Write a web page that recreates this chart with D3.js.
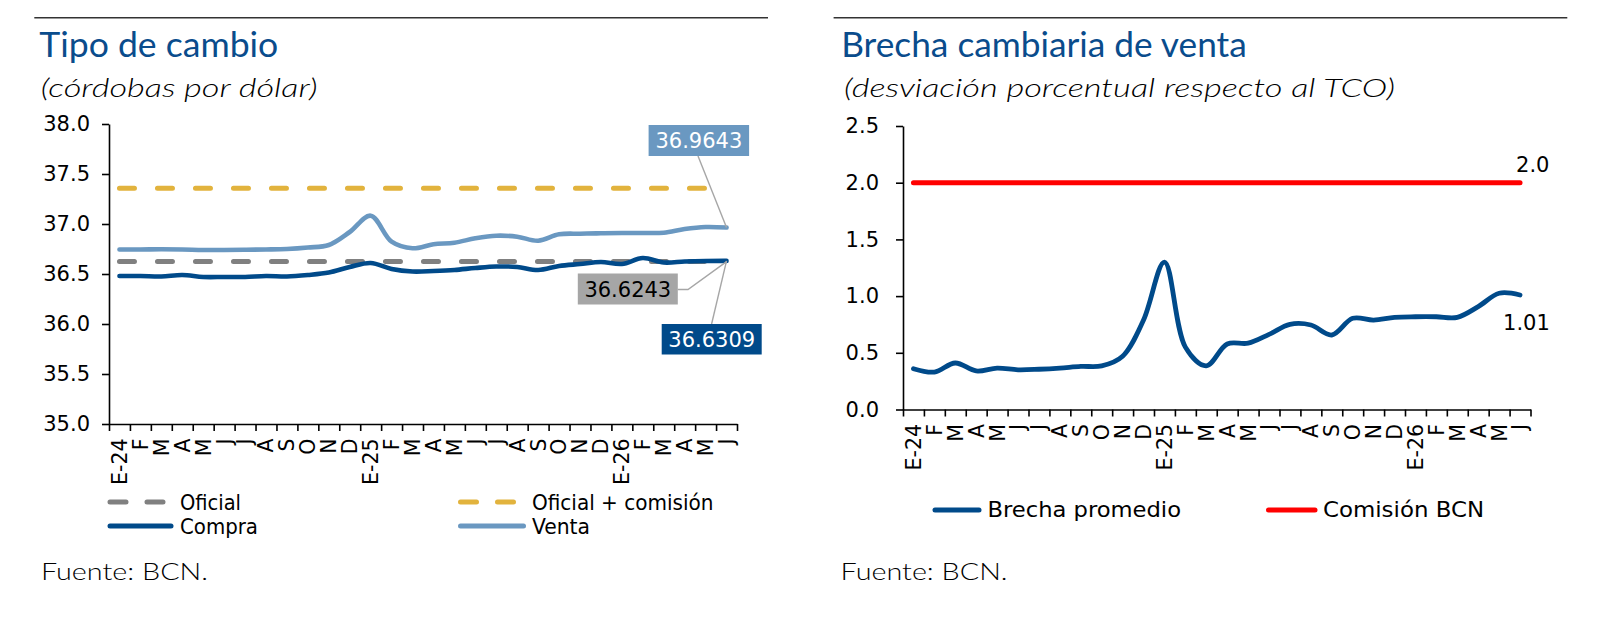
<!DOCTYPE html>
<html><head><meta charset="utf-8">
<script src="https://cdn.jsdelivr.net/npm/d3@7"></script>
<style>body{margin:0;background:#fff} svg{display:block;background:#fff}</style>
</head><body><svg id="c" width="1618" height="636"></svg>
<script>
// ---------- DATA ----------
const months = ["E-24","F","M","A","M","J","J","A","S","O","N","D","E-25","F","M","A","M","J","J","A","S","O","N","D","E-26","F","M","A","M","J"];
const compra = [36.48,36.48,36.475,36.49,36.47,36.47,36.47,36.48,36.475,36.49,36.515,36.57,36.61,36.55,36.525,36.53,36.54,36.56,36.575,36.57,36.54,36.58,36.60,36.62,36.60,36.66,36.615,36.625,36.63,36.6309];
const venta  = [36.745,36.745,36.747,36.745,36.74,36.74,36.742,36.745,36.75,36.765,36.79,36.92,37.083,36.823,36.757,36.797,36.813,36.857,36.883,36.873,36.833,36.897,36.903,36.907,36.91,36.91,36.913,36.95,36.97,36.9643];
const oficial = 36.6243;
const oficialComision = 37.3568;
const brecha = [0.36,0.33,0.41,0.34,0.365,0.35,0.355,0.365,0.38,0.385,0.47,0.79,1.30,0.55,0.385,0.578,0.585,0.663,0.751,0.745,0.657,0.804,0.789,0.813,0.818,0.818,0.813,0.907,1.025,1.01];
const comisionBCN = 2.0;
const yTicksLeft = [35.0,35.5,36.0,36.5,37.0,37.5,38.0];
const yTicksRight = [0.0,0.5,1.0,1.5,2.0,2.5];
const endLabelsLeft = ["36.9643","36.6243","36.6309"];
const endLabelsRight = ["2.0","1.01"];

// ---------- STYLE ----------
const C = {compra:"#004a8a", venta:"#6a98c1", gold:"#e2b33d", gray:"#808080", red:"#ff0000", title:"#0a4c8c", box:"#a6a6a6"};
const TICK_FONT = "'DejaVu Sans', Verdana, sans-serif";
const NARROW = "'Liberation Sans Narrow','DejaVu Sans Condensed','Liberation Sans',sans-serif";
const GEO = "Lato,'Open Sans',sans-serif";

const svg = d3.select("#c");
svg.append("rect").attr("width",1618).attr("height",636).attr("fill","#fff");

function txt(g, s, x, y, o) {
  const t = g.append("text").attr("x",x).attr("y",y).text(s)
    .attr("font-family", o.font).attr("font-size", o.size)
    .attr("fill", o.fill || "#000");
  if (o.weight) t.attr("font-weight", o.weight);
  if (o.style) t.attr("font-style", o.style);
  if (o.anchor) t.attr("text-anchor", o.anchor);
  if (o.len) t.attr("textLength", o.len).attr("lengthAdjust","spacingAndGlyphs");
  return t;
}

function panel(o) {
  const g = svg.append("g");
  // top rule
  g.append("line").attr("x1",o.ruleX0).attr("x2",o.ruleX1).attr("y1",17.7).attr("y2",17.7)
    .attr("stroke","#333").attr("stroke-width",1.4);
  txt(g, o.title, o.titleX, 56.7, {font:GEO, size:35, fill:C.title, len:o.titleLen});
  txt(g, o.subtitle, o.subX, 96.5, {font:GEO, size:26, style:"italic", weight:300, len:o.subLen});
  txt(g, "Fuente: BCN.", o.srcX, 580, {font:GEO, size:24, weight:300, len:167});

  const xb = d3.scaleBand().domain(d3.range(months.length)).range([o.x0,o.x1]).paddingInner(0).paddingOuter(0);
  const xc = i => xb(i) + xb.bandwidth()/2;
  const xLin = d3.scaleLinear().domain([0, months.length]).range([o.x0,o.x1]);
  const y = d3.scaleLinear().domain(o.yDomain).range([o.yBottom,o.yTop]);

  // y axis
  const ya = g.append("g").attr("transform",`translate(${o.x0},0)`)
    .call(d3.axisLeft(y).tickValues(o.yTicks).tickFormat(d3.format(".1f")).tickSize(7).tickSizeOuter(0).tickPadding(o.tickPad));
  ya.selectAll("text").attr("font-family",TICK_FONT).attr("font-size",21).attr("fill","#000");
  ya.selectAll("line,path").attr("stroke","#000").attr("stroke-width",1.6);
  // x axis
  const xa = g.append("g").attr("transform",`translate(0,${o.yBottom})`)
    .call(d3.axisBottom(xLin).tickValues(d3.range(months.length+1)).tickFormat("").tickSize(7).tickSizeOuter(0));
  xa.selectAll("line,path").attr("stroke","#000").attr("stroke-width",1.6);
  g.append("g").selectAll("text").data(months).join("text")
    .attr("transform",(d,i)=>`translate(${xc(i)},${o.yBottom+14.5}) rotate(-90)`)
    .attr("text-anchor","end").attr("dy","0.36em")
    .attr("font-family",TICK_FONT).attr("font-size",20.5).text(d=>d);
  return {g, xc, y};
}

// ---------- LEFT PANEL ----------
const L = panel({ruleX0:34.3, ruleX1:768, title:"Tipo de cambio", titleX:39.3, titleLen:239,
  subtitle:"(córdobas por dólar)", subX:40.7, subLen:277, srcX:41,
  x0:109, x1:737, yDomain:[35,38], yBottom:424, yTop:124, yTicks:yTicksLeft, tickPad:12});
const n = months.length;
const line = (y) => d3.line().x((d,i)=>L.xc(i)).y(d=>y(d)).curve(d3.curveCatmullRom.alpha(0.5));
// dashed constant lines
[[oficialComision, C.gold],[oficial, C.gray]].forEach(([v,col])=>{
  L.g.append("line").attr("x1",L.xc(0)).attr("x2",L.xc(n-1)).attr("y1",L.y(v)).attr("y2",L.y(v))
    .attr("stroke",col).attr("stroke-width",5).attr("stroke-dasharray","15,23").attr("stroke-linecap","round");
});
L.g.append("path").datum(venta).attr("d",line(L.y)).attr("fill","none").attr("stroke",C.venta).attr("stroke-width",4.6).attr("stroke-linecap","round");
L.g.append("path").datum(compra).attr("d",line(L.y)).attr("fill","none").attr("stroke",C.compra).attr("stroke-width",4.6).attr("stroke-linecap","round");

// end labels with leaders
const ex = L.xc(n-1);
const lead = L.g.append("g").attr("stroke",C.box).attr("stroke-width",1.4).attr("fill","none");
lead.append("path").attr("d",`M698,156 L${ex},${L.y(venta[n-1])}`);
lead.append("path").attr("d",`M677.7,289.5 L688,289.5 L${ex},${L.y(oficial)}`);
lead.append("path").attr("d",`M711.6,324 L${ex},${L.y(compra[n-1])}`);
const boxes = [
  {t:endLabelsLeft[0], x:648.6, y:125, w:100.5, h:31, fill:C.venta, tc:"#fff"},
  {t:endLabelsLeft[1], x:577.8, y:273.5, w:100, h:31, fill:C.box, tc:"#000"},
  {t:endLabelsLeft[2], x:661.7, y:324, w:100, h:30.5, fill:C.compra, tc:"#fff"}];
boxes.forEach(b=>{
  L.g.append("rect").attr("x",b.x).attr("y",b.y).attr("width",b.w).attr("height",b.h).attr("fill",b.fill);
  txt(L.g, b.t, b.x+b.w/2, b.y+b.h/2, {font:TICK_FONT, size:21, fill:b.tc, anchor:"middle"}).attr("dy","0.36em");
});
// legend left
const leg = L.g.append("g");
function legLine(g,x0,x1,y,col,dash){
  const l = g.append("line").attr("x1",x0).attr("x2",x1).attr("y1",y).attr("y2",y)
    .attr("stroke",col).attr("stroke-width",5).attr("stroke-linecap","round");
  if (dash) l.attr("stroke-dasharray",dash);
}
legLine(leg,110,163,502,C.gray,"16,21");
legLine(leg,110,171,526,C.compra);
legLine(leg,460.5,514,502,C.gold,"16,21");
legLine(leg,460.5,523.5,526,C.venta);
txt(leg,"Oficial",180,510,{font:NARROW,size:21.5,len:61});
txt(leg,"Compra",180,533.5,{font:NARROW,size:21.5,len:78});
txt(leg,"Oficial + comisión",532,510,{font:NARROW,size:21.5,len:181.5});
txt(leg,"Venta",532,533.5,{font:NARROW,size:21.5,len:58});

// ---------- RIGHT PANEL ----------
const R = panel({ruleX0:833.6, ruleX1:1567.3, title:"Brecha cambiaria de venta", titleX:841.2, titleLen:405.6,
  subtitle:"(desviación porcentual respecto al TCO)", subX:844, subLen:551, srcX:840.6,
  x0:903, x1:1530.5, yDomain:[0,2.5], yBottom:409.5, yTop:126, yTicks:yTicksRight, tickPad:17});
R.g.append("line").attr("x1",R.xc(0)).attr("x2",R.xc(n-1)).attr("y1",R.y(comisionBCN)).attr("y2",R.y(comisionBCN))
  .attr("stroke",C.red).attr("stroke-width",5).attr("stroke-linecap","round");
R.g.append("path").datum(brecha)
  .attr("d",d3.line().x((d,i)=>R.xc(i)).y(d=>R.y(d)).curve(d3.curveCatmullRom.alpha(0.5)))
  .attr("fill","none").attr("stroke",C.compra).attr("stroke-width",4.8).attr("stroke-linecap","round");
txt(R.g, endLabelsRight[0], R.xc(n-1)-4, R.y(comisionBCN)-11, {font:TICK_FONT,size:21});
txt(R.g, endLabelsRight[1], R.xc(n-1)-17, R.y(brecha[n-1])+35, {font:TICK_FONT,size:21});
const legR = R.g.append("g");
legLine(legR,935,979,510,C.compra);
legLine(legR,1268.5,1315,510,C.red);
txt(legR,"Brecha promedio",987.5,516.7,{font:NARROW,size:22,len:193.5});
txt(legR,"Comisión BCN",1323,516.7,{font:NARROW,size:22,len:161});
</script></body></html>
